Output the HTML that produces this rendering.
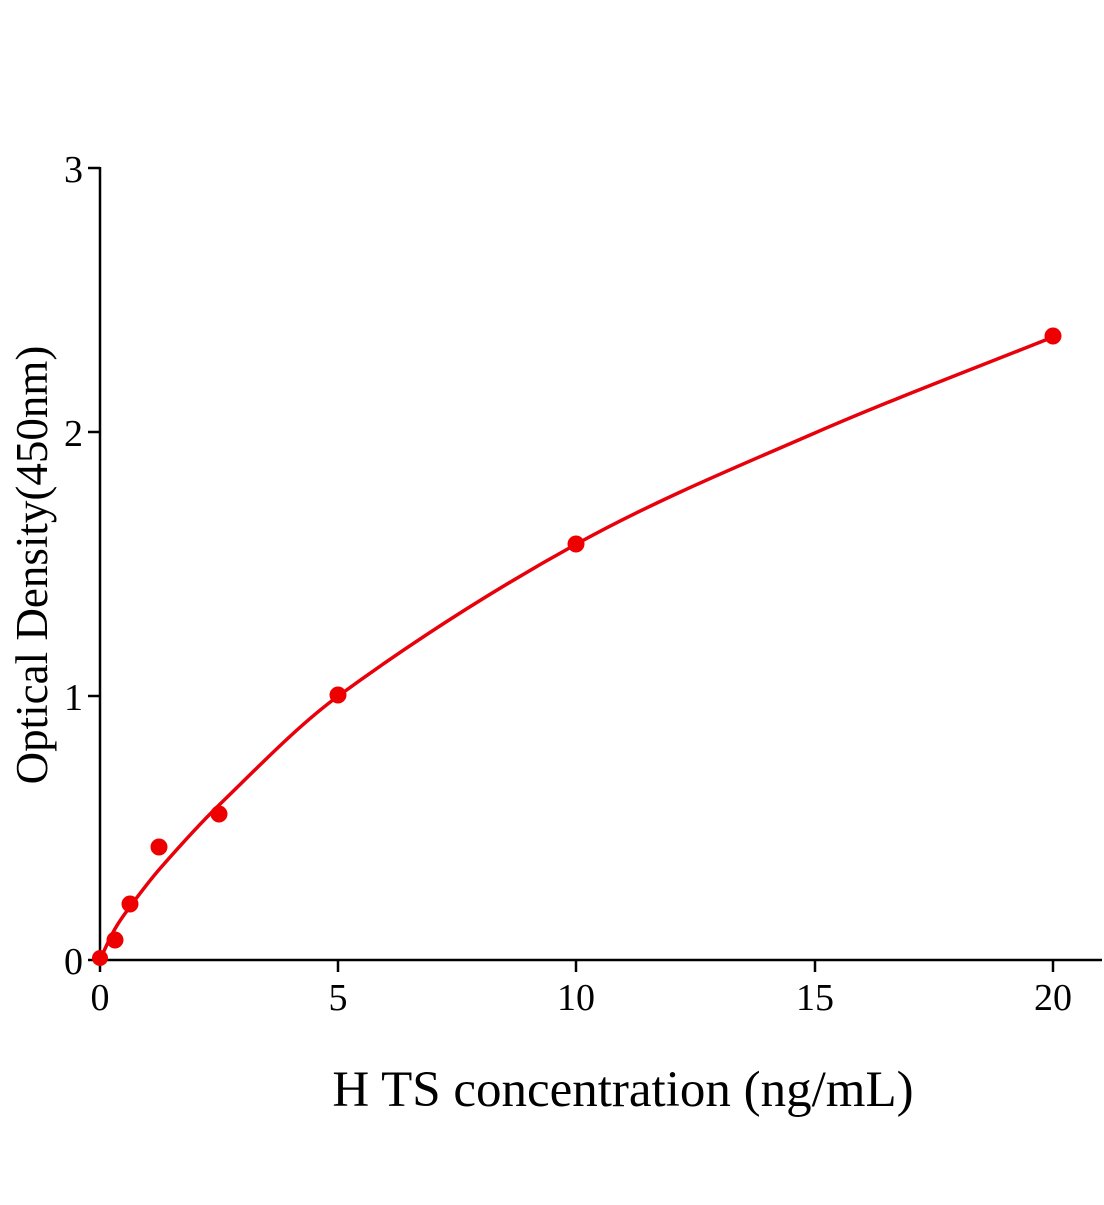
<!DOCTYPE html>
<html><head><style>body{margin:0;background:#fff}</style></head><body>
<svg width="1104" height="1200" xmlns="http://www.w3.org/2000/svg" font-family="Liberation Serif, serif">
<rect width="1104" height="1200" fill="#fff"/>
<g stroke="#000" stroke-width="2.5" fill="none">
<line x1="100" y1="167" x2="100" y2="961"/>
<line x1="99" y1="960" x2="1102" y2="960"/>
<line x1="88" y1="168" x2="100" y2="168"/>
<line x1="88" y1="432" x2="100" y2="432"/>
<line x1="88" y1="696" x2="100" y2="696"/>
<line x1="88" y1="960" x2="100" y2="960"/>
<line x1="100" y1="960" x2="100" y2="972"/>
<line x1="338" y1="960" x2="338" y2="972"/>
<line x1="576" y1="960" x2="576" y2="972"/>
<line x1="815" y1="960" x2="815" y2="972"/>
<line x1="1053" y1="960" x2="1053" y2="972"/>
</g>
<g font-size="38" text-anchor="end">
<text x="83" y="182">3</text><text x="83" y="446">2</text><text x="83" y="710">1</text><text x="83" y="974">0</text>
</g>
<g font-size="38" text-anchor="middle">
<text x="100" y="1010">0</text><text x="338" y="1010">5</text><text x="576" y="1010">10</text><text x="815" y="1010">15</text><text x="1053" y="1010">20</text>
</g>
<text x="623" y="1106" font-size="51" text-anchor="middle">H TS concentration (ng/mL)</text>
<text transform="translate(47,565) rotate(-90)" font-size="45" text-anchor="middle">Optical Density(450nm)</text>
<path d="M100,960 C104.97,948.6 109.93,937.8 114.9,929 C119.87,920.2 124.83,913.7 129.8,907 C139.7,893.7 149.7,880.3 159.6,869 C179.4,846.4 199.3,824.2 219.1,805 C258.8,766.5 298.6,725 338.3,696 C417.7,638 497.1,587.8 576.5,544 C655.9,500.2 735.4,467.5 814.8,433 C894.2,398.5 973.6,368.8 1053,337" stroke="#e8000b" stroke-width="3.5" fill="none"/>
<g fill="#ee0000">
<circle cx="100" cy="958" r="8"/>
<circle cx="115" cy="940" r="8.5"/>
<circle cx="130" cy="904" r="8.5"/>
<circle cx="159" cy="847" r="8.5"/>
<circle cx="219" cy="814" r="8.5"/>
<circle cx="338" cy="695" r="8.5"/>
<circle cx="576" cy="544" r="8.5"/>
<circle cx="1053" cy="336" r="8.5"/>
</g>
</svg>
</body></html>
